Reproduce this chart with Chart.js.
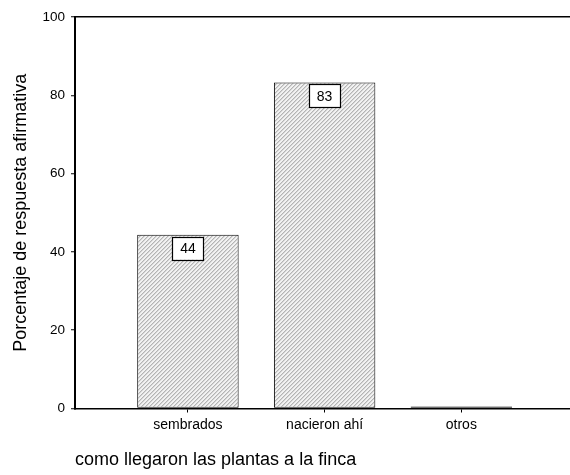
<!DOCTYPE html>
<html>
<head>
<meta charset="utf-8">
<script src="https://cdn.jsdelivr.net/npm/chart.js@4.4.0/dist/chart.umd.min.js"></script>
<style>
  html, body { margin: 0; padding: 0; background: #fff; }
  #wrap { width: 570px; height: 475px; position: relative; }
</style>
</head>
<body>
<div id="wrap"><canvas id="chart"></canvas></div>
<script>
// datos del gráfico
const categories = ['sembrados', 'nacieron ahí', 'otros'];
const percentValues = [44.4, 83.3, 0];
const yTicks = [0, 20, 40, 60, 80, 100];
const xTitle = 'como llegaron las plantas a la finca';
const yTitle = 'Porcentaje de respuesta afirmativa';

const FONT = "'Liberation Sans', Arial, sans-serif";

// trama rayada gris clara de las barras
function makeHatch() {
    const c = document.createElement('canvas');
    c.width = 4; c.height = 4;
    const g = c.getContext('2d');
    g.fillStyle = '#f2f2f2';
    g.fillRect(0, 0, 4, 4);
    g.fillStyle = '#b4b4b4';
    for (let i = 0; i < 4; i++) g.fillRect(i, 3 - i, 1, 1);
    g.fillStyle = '#d6d6d6';
    for (let i = 0; i < 4; i++) g.fillRect((i + 1) % 4, 3 - i, 1, 1);
    return g.createPattern(c, 'repeat');
}

// etiqueta con caja blanca bajo el borde superior de cada barra
const valueBoxes = {
    id: 'valueBoxes',
    afterDatasetsDraw(chart) {
        const ctx = chart.ctx;
        const meta = chart.getDatasetMeta(0);
        ctx.save();
        ctx.font = '14px ' + FONT;
        ctx.textAlign = 'center';
        ctx.textBaseline = 'middle';
        meta.data.forEach((bar, i) => {
            const v = percentValues[i];
            if (!v) return;
            const txt = String(Math.round(v));
            const w = 31, h = 23;
            const x = bar.x - w / 2, y = bar.y + 2;
            ctx.fillStyle = '#fff';
            ctx.fillRect(x, y, w, h);
            ctx.strokeStyle = '#000';
            ctx.lineWidth = 1.2;
            ctx.strokeRect(Math.round(x) + 0.5, Math.round(y) + 0.5, w, h);
            ctx.fillStyle = '#000';
            ctx.fillText(txt, bar.x, y + h / 2 + 1);
        });
        ctx.restore();
    }
};

const ctx = document.getElementById('chart');
new Chart(ctx, {
    type: 'bar',
    data: {
        datasets: [{
            data: percentValues.map((v, i) => ({ x: i + 1, y: v })),
            backgroundColor: makeHatch(),
            borderColor: '#000',
            borderWidth: 1,
            borderSkipped: false,
            minBarLength: 2,
            categoryPercentage: 1,
            barPercentage: 0.742
        }]
    },
    options: {
        responsive: true,
        maintainAspectRatio: false,
        animation: false,
        layout: { padding: { top: 17, right: 0, bottom: 0, left: 0 } },
        plugins: {
            legend: { display: false },
            tooltip: { enabled: false }
        },
        scales: {
            x: {
                type: 'linear',
                offset: false,
                min: 0.174,
                max: 3.795,
                afterBuildTicks: scale => {
                    scale.ticks = categories.map((c, i) => ({ value: i + 1 }));
                },
                afterFit: scale => { scale.height = 66.5; },
                border: { color: '#000', width: 1.5 },
                grid: {
                    offset: false,
                    drawOnChartArea: false,
                    tickLength: 4,
                    tickColor: '#000',
                    tickWidth: 1
                },
                ticks: {
                    color: '#000',
                    font: { family: FONT, size: 14 },
                    padding: 4,
                    maxRotation: 0,
                    autoSkip: false,
                    callback: v => categories[v - 1] ?? ''
                },
                title: {
                    display: true,
                    text: xTitle,
                    align: 'start',
                    color: '#000',
                    font: { family: FONT, size: 18 },
                    padding: { top: 0, bottom: 4 }
                }
            },
            y: {
                min: 0,
                max: 100,
                afterBuildTicks: scale => {
                    scale.ticks = yTicks.map(v => ({ value: v }));
                },
                afterFit: scale => { scale.width = 75; },
                border: { color: '#000', width: 2 },
                grid: {
                    color: c => (c.tick && c.tick.value === 100 ? '#000' : 'rgba(0,0,0,0)'),
                    lineWidth: 1.5,
                    tickLength: 4,
                    tickColor: '#000',
                    tickWidth: 1
                },
                ticks: {
                    color: '#000',
                    font: { family: FONT, size: 13.5 },
                    padding: 6
                },
                title: {
                    display: true,
                    text: yTitle,
                    color: '#000',
                    font: { family: FONT, size: 18 },
                    padding: { top: 10, bottom: 0 }
                }
            }
        }
    },
    plugins: [valueBoxes]
});
</script>
</body>
</html>
